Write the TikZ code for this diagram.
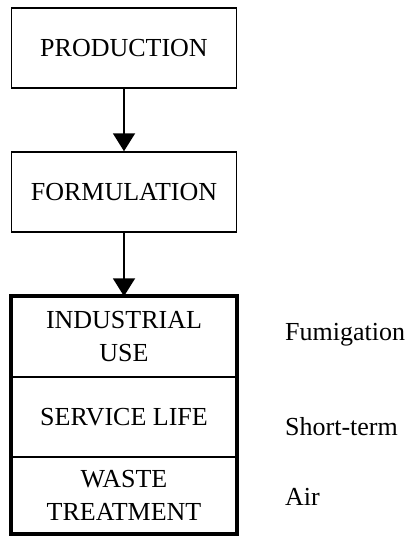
\documentclass[tikz,border=0pt]{standalone}
\usepackage{fontspec}
\setmainfont{Liberation Serif}
\usetikzlibrary{arrows.meta,positioning}
\begin{document}
\begin{tikzpicture}[x=1pt,y=-1pt,
  every node/.style={font=\fontsize{26}{33}\selectfont},
  box/.style={draw,line width=1.5pt,minimum width=225pt,minimum height=80pt,inner sep=0pt,align=center},
  cell/.style={draw,line width=1.5pt,minimum width=224pt,inner sep=0pt,align=center},
  side/.style={anchor=west,inner sep=0pt},
  flow/.style={line width=2pt,-{Triangle[width=22pt,length=18pt]}}]
\useasboundingbox (0,0) rectangle (409,536);
\node[box] (prod) at (124,48) {PRODUCTION};
\node[box] (form) at (124,192) {FORMULATION};
\node[cell,minimum height=80pt] (ind) at (124,337) {INDUSTRIAL\\USE};
\node[cell,minimum height=80pt] (serv) at (124,417) {SERVICE LIFE};
\node[cell,minimum height=76pt] (waste) at (124,495) {WASTE\\TREATMENT};
\draw[line width=4pt] (ind.north west) rectangle (waste.south east);
\node[side] (fum) at (285,335) {Fumigation};
\node[side] (st) at (285,427) {Short-term};
\node[side] (air) at (285,497) {Air};
\draw[flow] (prod.south) -- (form.north);
\draw[flow] (form.south) -- (ind.north);
\end{tikzpicture}
\end{document}
